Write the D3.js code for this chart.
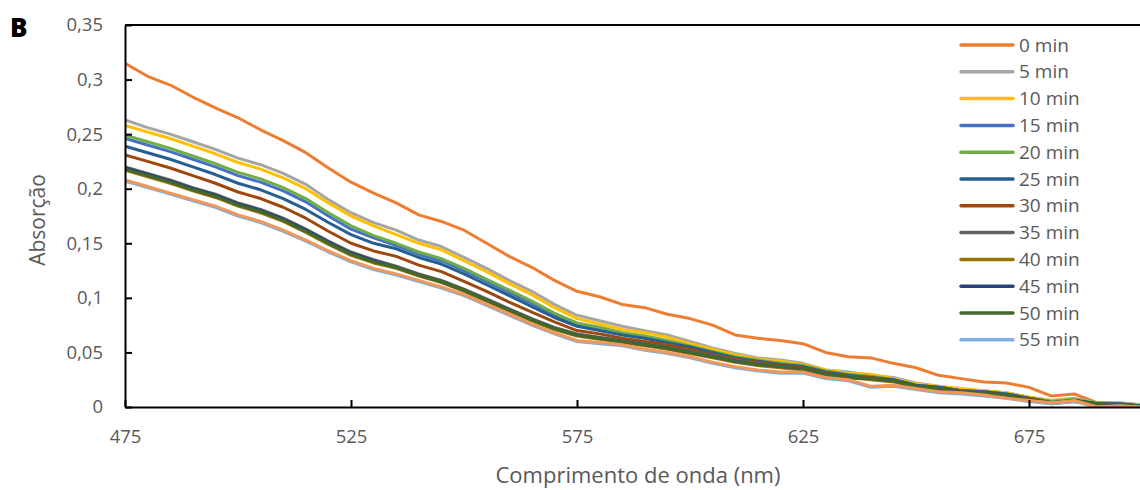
<!DOCTYPE html>
<html>
<head>
<meta charset="utf-8">
<script src="https://cdn.jsdelivr.net/npm/d3@7"></script>
<style>
html,body{margin:0;padding:0;background:#fff;}
svg text{font-family:"Open Sans",Lato,sans-serif;}
</style>
</head>
<body>
<svg id="chart" width="1140" height="490"></svg>
<script>
// ---- data ----
const wavelengths = [475,480,485,490,495,500,505,510,515,520,525,530,535,540,545,550,555,560,565,570,575,580,585,590,595,600,605,610,615,620,625,630,635,640,645,650,655,660,665,670,675,680,685,690,695,700];

const seriesNames = ["0 min","5 min","10 min","15 min","20 min","25 min","30 min","35 min","40 min","45 min","50 min","55 min","60 min"];
const legendNames = ["0 min","5 min","10 min","15 min","20 min","25 min","30 min","35 min","40 min","45 min","50 min","55 min"];
const seriesColors = ["#ED7D31","#A5A5A5","#FFC000","#4472C4","#70AD47","#255E91","#9E480E","#636363","#997300","#264478","#43682B","#7CAFDD","#F1975A"];

const min0  = [.315,.303,.295,.284,.274,.265,.254,.244,.233,.219,.206,.196,.187,.176,.170,.162,.150,.138,.128,.116,.106,.101,.094,.091,.085,.081,.075,.066,.063,.061,.058,.050,.046,.045,.040,.036,.029,.026,.023,.022,.018,.010,.012,.004,.003,.001];
const min5  = [.263,.256,.250,.243,.236,.228,.222,.214,.204,.190,.178,.169,.162,.153,.147,.137,.127,.116,.106,.094,.084,.079,.074,.070,.066,.060,.054,.049,.045,.043,.040,.034,.032,.029,.027,.022,.019,.016,.015,.013,.009,.006,.008,.004,.004,.002];
const min10 = [.258,.252,.246,.239,.232,.224,.218,.210,.200,.187,.175,.166,.158,.150,.144,.134,.124,.113,.103,.091,.081,.076,.071,.068,.064,.058,.053,.048,.044,.042,.039,.034,.031,.030,.026,.021,.019,.017,.015,.013,.009,.006,.007,.004,.003,.002];
const min15 = [.246,.240,.234,.227,.220,.212,.206,.198,.188,.175,.163,.155,.148,.140,.134,.125,.115,.105,.095,.084,.076,.072,.067,.064,.060,.055,.050,.045,.042,.040,.037,.032,.029,.028,.025,.020,.018,.015,.014,.012,.008,.005,.006,.003,.003,.001];
const min20 = [.249,.243,.237,.230,.223,.215,.209,.201,.191,.178,.166,.157,.150,.142,.136,.127,.117,.107,.097,.086,.077,.073,.068,.065,.061,.056,.051,.046,.043,.040,.038,.033,.030,.028,.025,.020,.018,.015,.014,.012,.008,.005,.007,.004,.003,.001];
const min25 = [.239,.233,.227,.220,.213,.205,.199,.191,.181,.169,.158,.150,.145,.137,.131,.122,.112,.102,.092,.082,.074,.070,.066,.063,.059,.055,.050,.045,.042,.039,.037,.032,.029,.027,.025,.020,.018,.015,.014,.012,.008,.004,.006,.003,.003,.001];
const min30 = [.231,.225,.219,.212,.205,.197,.191,.183,.173,.161,.150,.143,.138,.130,.124,.115,.106,.096,.087,.078,.070,.067,.063,.060,.057,.053,.048,.044,.041,.038,.036,.031,.028,.027,.024,.019,.017,.015,.013,.011,.008,.004,.006,.003,.002,.001];
const min35 = [.220,.214,.208,.201,.195,.187,.181,.173,.163,.152,.142,.135,.129,.122,.116,.108,.099,.090,.081,.073,.067,.064,.061,.058,.055,.051,.047,.043,.040,.037,.035,.030,.027,.026,.024,.019,.017,.014,.013,.011,.007,.004,.006,.003,.002,.001];
const min40 = [.217,.211,.205,.198,.192,.184,.178,.170,.160,.149,.139,.132,.127,.120,.114,.106,.097,.088,.079,.071,.065,.062,.059,.056,.053,.049,.045,.041,.038,.036,.034,.029,.027,.025,.023,.018,.016,.014,.012,.010,.007,.003,.005,.002,.002,.000];
const min45 = [.219,.213,.207,.200,.194,.186,.180,.172,.162,.151,.141,.134,.128,.121,.115,.107,.098,.089,.080,.072,.066,.063,.060,.057,.054,.050,.046,.042,.039,.037,.035,.030,.027,.026,.024,.019,.017,.014,.013,.011,.007,.004,.006,.003,.002,.001];
const min50 = [.218,.212,.206,.199,.193,.185,.179,.171,.161,.150,.140,.133,.128,.121,.115,.107,.098,.089,.080,.072,.066,.063,.060,.057,.054,.050,.046,.042,.039,.037,.035,.030,.027,.026,.024,.019,.017,.014,.013,.011,.007,.004,.006,.003,.002,.001];
const min55 = [.207,.201,.195,.189,.183,.175,.169,.161,.152,.142,.133,.126,.121,.115,.109,.102,.093,.084,.075,.067,.060,.058,.056,.052,.049,.045,.040,.036,.033,.031,.031,.026,.024,.018,.019,.016,.013,.012,.010,.008,.005,.003,.005,.000,.001,.000];
const min60 = [.208,.202,.196,.190,.184,.176,.170,.162,.153,.143,.134,.127,.122,.116,.110,.103,.094,.085,.076,.068,.061,.059,.057,.053,.050,.046,.041,.037,.034,.032,.032,.027,.025,.019,.020,.017,.014,.013,.011,.008,.006,.004,.006,.000,.001,.000];

const seriesValues = [min0,min5,min10,min15,min20,min25,min30,min35,min40,min45,min50,min55,min60];

const xTicks = [475,525,575,625,675];
const yTicks = [0,0.05,0.1,0.15,0.2,0.25,0.3,0.35];

// ---- layout ----
const svg = d3.select("#chart");
const mLeft = 125, mRight = 1142, mTop = 25, mBottom = 407;
const x = d3.scaleLinear().domain([475,700]).range([mLeft,mRight]);
const y = d3.scaleLinear().domain([0,0.35]).range([mBottom,mTop]);
const fmt = v => String(+v.toFixed(2)).replace(".", ",");

svg.append("clipPath").attr("id","clip").append("rect")
  .attr("x",mLeft).attr("y",mTop-5).attr("width",mRight-mLeft).attr("height",mBottom-mTop+5);

// lines
const line = d3.line().x((d,i)=>x(wavelengths[i])).y(d=>y(d));
const lg = svg.append("g").attr("clip-path","url(#clip)");
seriesValues.forEach((vals,k)=>{
  lg.append("path").datum(vals)
    .attr("d",line)
    .attr("fill","none")
    .attr("stroke",seriesColors[k])
    .attr("stroke-width",3)
    .attr("stroke-linejoin","round")
    .attr("stroke-linecap","round");
});

// axes
const yAxis = d3.axisLeft(y).tickValues(yTicks).tickFormat(fmt).tickSizeInner(-7).tickSizeOuter(0).tickPadding(22);
const gy = svg.append("g").attr("transform",`translate(${mLeft},0)`).call(yAxis);
const xAxis = d3.axisBottom(x).tickValues(xTicks).tickFormat(d3.format("d")).tickSizeInner(-7).tickSizeOuter(0).tickPadding(23);
const gx = svg.append("g").attr("transform",`translate(0,${mBottom})`).call(xAxis);
[gx,gy].forEach(g=>{
  g.select(".domain").attr("stroke","#000").attr("stroke-width",2);
  g.selectAll(".tick line").attr("stroke","#000").attr("stroke-width",2);
  g.selectAll(".tick text").attr("fill","#595959").style("font-size","18.5px").style("font-family","'Open Sans', sans-serif");
});

// top border
svg.append("line").attr("x1",mLeft).attr("x2",1140).attr("y1",mTop).attr("y2",mTop)
  .attr("stroke","#000").attr("stroke-width",2);

// titles
svg.append("text").attr("x",638).attr("y",483).attr("text-anchor","middle")
  .attr("fill","#595959").style("font-size","22px").text("Comprimento de onda (nm)");
svg.append("text").attr("transform","translate(45,220) rotate(-90)").attr("text-anchor","middle")
  .attr("fill","#595959").style("font-size","21px").text("Absorção");
svg.append("text").attr("x",10).attr("y",37).attr("fill","#000")
  .style("font-size","26px").style("font-weight","800").style("font-family","'Open Sans',sans-serif").text("B");

// legend
const legend = svg.append("g");
legendNames.forEach((n,i)=>{
  const yy = 45 + i*26.8;
  legend.append("line").attr("x1",961).attr("x2",1013).attr("y1",yy).attr("y2",yy)
    .attr("stroke",seriesColors[i]).attr("stroke-width",3.5).attr("stroke-linecap","round");
  legend.append("text").attr("x",1019).attr("y",yy).attr("dy","0.35em")
    .attr("fill","#595959").style("font-size","19px").text(n);
});
</script>
</body>
</html>
